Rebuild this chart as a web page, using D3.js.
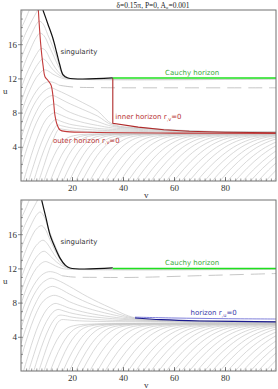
<!DOCTYPE html>
<html>
<head>
<meta charset="utf-8">
<script src="https://cdn.jsdelivr.net/npm/d3@7"></script>
<style>
  body { margin: 0; background: #fff; }
  svg { display: block; }
</style>
</head>
<body>
<svg id="chart" width="278" height="389"></svg>
<script>
// contour plot of r(u,v), two panels

const titleText = "δ=0.15π, P=0, A₀=0.001";
const uTicks = [4, 8, 12, 16];
const vTicks = [20, 40, 60, 80];

// special curves, [v, u]
const singTop = [[8.6,20],[10.5,18.4],[12.5,16.7],[14,15.0],[15.2,13.6],[16.5,12.4],[18.4,12.05],[36,12.05]];
const cauchyTop = [[36,12.05],[100,12.05]];
const outerHorizonTop = [[6.8,20],[7.7,16.1],[8.7,13.4],[9.4,12.2],[10.6,11.75],[11.8,11.2],[12.7,9.5],[13.3,7.7],[14.2,6.55],[15.3,5.96],[18,5.78],[30,5.68],[60,5.6],[100,5.56]];
const innerHorizonTop = [[36,12.05],[36,6.75],[46,6.3],[56,6.0],[66,5.82],[80,5.7],[100,5.65]];
const dashTop = [[15,11.2],[20,11.0],[30,10.92],[60,10.9],[100,10.9]];

const singBot = [[8.1,20],[9.8,17.9],[11.4,15.9],[13.4,14.4],[15.3,13.2],[17.3,12.4],[19.2,12.05],[36,12.05]];
const cauchyBot = [[36,12.0],[100,12.0]];
const horizonBot = [[44.7,6.3],[60,6.2],[80,6.12],[100,6.08]];
const horizonBotInner = [[44.7,6.2],[55,6.0],[70,5.85],[100,5.75]];
const dashBot = [[16,11.15],[20,11.0],[30,10.95],[45,10.95],[70,11.15],[100,11.4]];

// gray contours crossing the apparent horizon (humps), [v, u]
const humpsTop = [
  [[7,0],[9,1.8],[11,3.6],[13,5.1],[14.3,5.9],[15.0,6.1],[16.5,6.05],[20,5.9],[28,5.78],[36,5.74],[60,5.68],[100,5.64]],
  [[5,0],[7,1.9],[9,3.6],[11,5.0],[13,6.1],[14.3,6.55],[16,6.45],[20,6.2],[28,5.98],[36,5.88],[50,5.78],[70,5.7],[100,5.66]],
  [[3,0],[5,1.9],[7,3.7],[9,5.2],[11,6.4],[12.6,7.0],[13.7,7.2],[15.5,7.0],[19,6.65],[25,6.35],[30,6.15],[36,6.03],[50,5.88],[70,5.74],[100,5.68]],
  [[1,0],[3,2.0],[5,3.9],[7,5.5],[9,6.8],[11,7.6],[13.2,8.0],[15,7.8],[19,7.3],[25,6.8],[30,6.5],[36,6.2],[50,5.98],[70,5.77],[100,5.7]],
  [[0,1.5],[2,3.5],[4,5.3],[6,6.8],[8,7.9],[10,8.6],[12.9,9.0],[15,8.75],[18,8.2],[24,7.5],[30,6.95],[36,6.38],[50,6.07],[70,5.8],[100,5.72]],
  [[0,3.2],[2,5.1],[4,6.8],[6,8.1],[8,9.1],[10,9.7],[12.4,10.0],[14.5,9.75],[18,9.2],[24,8.4],[30,7.6],[36,6.52],[50,6.13],[70,5.82],[100,5.73]],
  [[0,5],[2,6.8],[4,8.3],[6,9.4],[8,10.2],[10,10.7],[11.8,10.9],[14,10.65],[18,10.1],[24,9.2],[30,8.2],[36,6.64],[50,6.18],[70,5.84],[100,5.74]],
  [[0,6.6],[2,8.2],[4,9.5],[6,10.5],[8,11.2],[10,11.55],[11.3,11.62],[13,11.5],[15,11.2]],
  [[0,7.8],[2,9.6],[4,11.0],[6,12.1],[8,12.8],[8.9,13.0],[10.5,12.9],[12.5,12.5],[14.5,12.2],[17,11.95],[20,11.9],[100,11.9]],
  [[0,9.2],[2,10.9],[4,12.3],[6,13.4],[8,14.2],[8.4,14.3],[10,14.0],[12,13.2],[14,12.6],[16,12.2],[19,11.97],[100,11.95]],
  [[0,10.8],[2,12.4],[4,13.7],[6,14.8],[7.9,15.5],[9.5,15.3],[11.5,14.2],[13.5,13.2],[15.5,12.5],[18,12.0]],
  [[0,12.6],[2,14.2],[4,15.6],[6,16.8],[7.4,17.3],[9,17.0],[11,15.8],[13,14.5],[15,13.2],[17,12.3],[19,12.0]],
  [[0,14.3],[2,15.8],[4,17.1],[6,18.3],[7.1,18.7],[8.6,18.4],[10.5,17.1],[12.5,15.7],[14.5,14.0],[16.3,12.6],[18.5,12.05]],
  [[0,16.0],[2,17.4],[4,18.6],[6,19.7],[7,20.3]],
  [[0,17.8],[2,19.1],[3.5,20.2]],
  [[0,19.4],[1,20.2]]
];

const humpsBot = [
  [[7,0],[9,1.8],[11,3.5],[13,4.9],[14.5,5.7],[15.8,6.0],[17.5,6.0],[21,5.9],[30,5.8],[45,5.75],[70,5.68],[100,5.65]],
  [[5,0],[7,1.9],[9,3.6],[11,5.0],[13,6.0],[14.8,6.5],[16.8,6.5],[20,6.3],[28,6.05],[45,5.85],[70,5.72],[100,5.68]],
  [[3,0],[5,1.9],[7,3.7],[9,5.2],[11,6.3],[13,7.0],[14.5,7.2],[16.5,7.05],[20,6.75],[28,6.35],[45,5.95],[70,5.76],[100,5.7]],
  [[1,0],[3,2.0],[5,3.9],[7,5.5],[9,6.7],[11,7.5],[13.3,7.9],[15.5,7.75],[19,7.35],[26,6.8],[35,6.35],[45,6.03],[70,5.8],[100,5.72]],
  [[0,1.5],[2,3.5],[4,5.3],[6,6.8],[8,7.9],[10,8.5],[12.8,8.85],[15.5,8.65],[19,8.1],[26,7.35],[35,6.65],[45,6.1],[70,5.83],[100,5.74]],
  [[0,3.2],[2,5.1],[4,6.8],[6,8.1],[8,9.1],[10,9.65],[12.3,9.9],[15,9.65],[19,9.0],[26,8.0],[35,7.0],[45,6.15],[70,5.86],[100,5.76]],
  [[0,5],[2,6.8],[4,8.3],[6,9.4],[8,10.2],[10,10.65],[11.8,10.85],[14.5,10.6],[19,9.9],[26,8.7],[35,7.4],[45,6.2],[70,5.88],[100,5.78]],
  [[0,6.6],[2,8.2],[4,9.5],[6,10.5],[8,11.2],[10,11.55],[11.5,11.62],[13.5,11.5],[16,11.15]],
  [[0,7.8],[2,9.6],[4,11.0],[6,12.0],[8,12.6],[9.6,12.8],[11.5,12.6],[13.5,12.3],[16,12.0],[19,11.9],[100,11.88]],
  [[0,9.2],[2,10.9],[4,12.3],[6,13.3],[8,13.9],[9.2,14.0],[11,13.6],[13,13.0],[15,12.5],[17.5,12.1],[20,11.95],[100,11.93]],
  [[0,10.8],[2,12.4],[4,13.7],[6,14.7],[8.6,15.3],[10.3,14.9],[12,14.1],[14,13.2],[16,12.5],[18.5,12.05]],
  [[0,12.6],[2,14.2],[4,15.6],[6,16.6],[8.0,17.0],[9.5,16.6],[11,15.6],[13,14.3],[15,13.2],[17,12.4],[19,12.05]],
  [[0,14.3],[2,15.8],[4,17.1],[6,18.2],[7.5,18.6],[9,18.1],[10.5,16.9],[12.5,15.3],[14.5,13.9],[16.5,12.6],[18.5,12.1]],
  [[0,16.0],[2,17.4],[4,18.6],[6,19.7],[7,20.3]],
  [[0,17.8],[2,19.1],[3.5,20.2]],
  [[0,19.4],[1,20.2]]
];

// gray contours below the horizon: v where each one crosses the u levels
const lowerLevels = [0, 1.5, 3, 4.2, 5.0, 5.35, 5.5, 5.55];
const lowerCurves = [
  [9, 10.8, 13.0, 15.3, 18.0, 21.6, 28.8, 70],
  [11.5, 13.5, 15.9, 18.5, 21.5, 25.5, 33.5, 75],
  [14, 16.1, 18.6, 21.4, 24.5, 28.7, 37.1, 80],
  [16.5, 18.8, 21.6, 24.6, 28.0, 32.6, 41.8, 85],
  [19, 21.4, 24.3, 27.4, 31.0, 35.8, 45.4, 90],
  [21.5, 24.1, 27.2, 30.6, 34.5, 39.7, 50.1, 95],
  [24, 26.7, 29.9, 33.5, 37.5, 42.9, 53.7, 100],
  [27, 29.9, 33.4, 37.2, 41.5, 47.3, 58.9, 105],
  [30, 33, 36.6, 40.5, 45, 51, 63, 110],
  [33, 36.2, 40.0, 44.2, 49, 55.4, 68.2, 115],
  [36, 39.3, 43.3, 47.6, 52.5, 59.1, 72.3, 120],
  [39, 42.4, 46.5, 50.9, 56, 62.8, 76.4, 125],
  [42, 45.6, 49.9, 54.6, 60, 67.2, 81.6, 130],
  [45, 48.7, 53.1, 58.0, 63.5, 70.9, 85.7, 135],
  [48, 51.8, 56.4, 61.3, 67, 74.6, 89.8, 140],
  [51, 54.9, 59.6, 64.7, 70.5, 78.3, 93.9, 145],
  [54, 58, 62.8, 68, 74, 82, 98, 150],
  [57, 61.1, 66.0, 71.4, 77.5, 85.7, 102.1, 155],
  [60, 64.2, 69.2, 74.7, 81, 89.4, 106.2, 160],
  [63, 67.3, 72.5, 78.1, 84.5, 93.1, 110.3, 165],
  [66, 70.4, 75.7, 81.4, 88, 96.8, 114.4, 170],
  [69, 73.5, 78.9, 84.8, 91.5, 100.5, 118.5, 175],
  [72, 76.5, 81.9, 87.8, 94.5, 103.5, 121.5, 180],
  [75, 79.6, 85.1, 91.1, 98, 107.2, 125.6, 185],
  [78, 82.6, 88.1, 94.1, 101, 110.2, 128.6, 190],
  [81, 85.7, 91.3, 97.5, 104.5, 114, 133, 195],
  [84, 88.7, 94.3, 100.5, 107.5, 117, 136, 200],
  [87, 91.8, 97.6, 103.8, 111, 120, 140, 205],
  [90, 94.8, 100.6, 107, 114, 124, 143, 210],
  [93, 97.8, 103.6, 110, 117, 127, 146, 215],
  [96, 100.9, 107, 113, 120, 130, 150, 220],
  [99, 103.9, 110, 116, 123, 133, 153, 225]
];

const svg = d3.select("#chart");
const margin = {left: 21, right: 2};
const width = 278 - margin.left - margin.right;

const x = d3.scaleLinear().domain([0, 100]).range([margin.left, margin.left + width]);

svg.append("text")
  .attr("x", 153).attr("y", 7.5)
  .attr("text-anchor", "middle")
  .style("font", "7.5px 'Liberation Serif', serif")
  .style("fill", "#222")
  .text(titleText);

function drawPanel(top, bottom, opt) {
  const y = d3.scaleLinear().domain([0, 20]).range([bottom, top]);
  const line = d3.line().x(d => x(d[0])).y(d => y(d[1]));
  const smooth = d3.line().x(d => x(d[0])).y(d => y(d[1])).curve(d3.curveCatmullRom.alpha(0.5));

  const clipId = "clip" + top;
  svg.append("clipPath").attr("id", clipId)
    .append("rect")
      .attr("x", x(0)).attr("y", top)
      .attr("width", x(100) - x(0)).attr("height", bottom - top);

  const g = svg.append("g").attr("clip-path", "url(#" + clipId + ")");

  // gray contours
  const lower = lowerCurves.map(vs => vs.map((v, i) => [v, lowerLevels[i]]));
  g.selectAll(".lower")
    .data(lower)
    .join("path")
      .attr("d", smooth)
      .attr("fill", "none")
      .attr("stroke", "#c8c8c8")
      .attr("stroke-width", 0.7);

  g.selectAll(".hump")
    .data(opt.humps)
    .join("path")
      .attr("d", smooth)
      .attr("fill", "none")
      .attr("stroke", "#c8c8c8")
      .attr("stroke-width", 0.7);

  g.append("path")
    .attr("d", smooth(opt.dash))
    .attr("fill", "none")
    .attr("stroke", "#b8b8b8")
    .attr("stroke-width", 0.8)
    .attr("stroke-dasharray", "14,7");

  // horizons
  opt.horizons.forEach(h => {
    g.append("path")
      .attr("d", (h.straight ? line : smooth)(h.data))
      .attr("fill", "none")
      .attr("stroke", h.color)
      .attr("stroke-width", h.w);
  });

  g.append("path")
    .attr("d", smooth(opt.sing))
    .attr("fill", "none")
    .attr("stroke", "#111")
    .attr("stroke-width", 1.2);

  g.append("path")
    .attr("d", line(opt.cauchy))
    .attr("fill", "none")
    .attr("stroke", "#1ee01e")
    .attr("stroke-width", 1.5);

  // frame
  svg.append("rect")
    .attr("x", x(0)).attr("y", top)
    .attr("width", x(100) - x(0)).attr("height", bottom - top)
    .attr("fill", "none")
    .attr("stroke", "#707070")
    .attr("stroke-width", 1);

  // axes
  const yAxis = d3.axisLeft(y).tickValues(d3.range(1, 20)).tickSize(-2).tickFormat("");
  svg.append("g").attr("transform", "translate(" + x(0) + ",0)").call(yAxis)
    .call(a => a.select(".domain").remove())
    .selectAll("line").attr("stroke", "#555").attr("stroke-width", 0.6);
  const yMajor = d3.axisLeft(y).tickValues(uTicks).tickSize(3).tickPadding(1);
  svg.append("g").attr("transform", "translate(" + x(0) + ",0)").call(yMajor)
    .call(a => a.select(".domain").remove())
    .call(a => a.selectAll("line").attr("stroke", "#555").attr("stroke-width", 0.7))
    .selectAll("text")
      .style("font", "9px 'Liberation Serif', serif")
      .style("fill", "#333");

  const xAxis = d3.axisBottom(x).tickValues(d3.range(2, 100, 2)).tickSize(-2.5).tickFormat("");
  svg.append("g").attr("transform", "translate(0," + bottom + ")").call(xAxis)
    .call(a => a.select(".domain").remove())
    .selectAll("line").attr("stroke", "#555").attr("stroke-width", 0.6);
  const xMajor = d3.axisBottom(x).tickValues(vTicks).tickSize(-4).tickPadding(4);
  svg.append("g").attr("transform", "translate(0," + bottom + ")").call(xMajor)
    .call(a => a.select(".domain").remove())
    .call(a => a.selectAll("line").attr("stroke", "#555").attr("stroke-width", 0.7))
    .selectAll("text")
      .style("font", "9px 'Liberation Serif', serif")
      .style("fill", "#333");

  svg.append("text")
    .attr("x", 3).attr("y", y(10.2))
    .style("font", "9px 'Liberation Serif', serif").style("fill", "#333")
    .text("u");
  svg.append("text")
    .attr("x", 144).attr("y", bottom + 17)
    .style("font", "9px 'Liberation Serif', serif").style("fill", "#333")
    .text("v");

  // labels
  opt.labels.forEach(l => {
    const t = svg.append("text")
      .attr("x", x(l.v)).attr("y", y(l.u))
      .style("font", "7px 'DejaVu Sans', sans-serif")
      .style("fill", l.color);
    t.append("tspan").text(l.text);
    if (l.sub) {
      t.append("tspan").attr("dy", 1.5).style("font-size", "5px").text(l.sub);
      t.append("tspan").attr("dy", -1.5).text(l.after);
    }
  });
}

drawPanel(10, 181, {
  humps: humpsTop,
  dash: dashTop,
  sing: singTop,
  cauchy: cauchyTop,
  horizons: [
    {data: outerHorizonTop, color: "#c23b3b", w: 1.1},
    {data: innerHorizonTop, color: "#b02a2a", w: 1.1, straight: true}
  ],
  labels: [
    {text: "singularity", v: 15.5, u: 14.9, color: "#333"},
    {text: "Cauchy horizon", v: 56.5, u: 12.4, color: "#3aaa3a"},
    {text: "inner horizon r", sub: ",v", after: "=0", v: 37, u: 7.2, color: "#b83434"},
    {text: "outer horizon r", sub: ",v", after: "=0", v: 12.5, u: 4.5, color: "#b83434"}
  ]
});

drawPanel(200, 371, {
  humps: humpsBot,
  dash: dashBot,
  sing: singBot,
  cauchy: cauchyBot,
  horizons: [
    {data: horizonBot, color: "#6060d0", w: 0.8},
    {data: horizonBotInner, color: "#1a1a90", w: 1.2}
  ],
  labels: [
    {text: "singularity", v: 15.5, u: 14.8, color: "#333"},
    {text: "Cauchy horizon", v: 56.5, u: 12.4, color: "#3aaa3a"},
    {text: "horizon r", sub: ",u", after: "=0", v: 66.5, u: 6.5, color: "#3a3aaa"}
  ]
});
</script>
</body>
</html>
